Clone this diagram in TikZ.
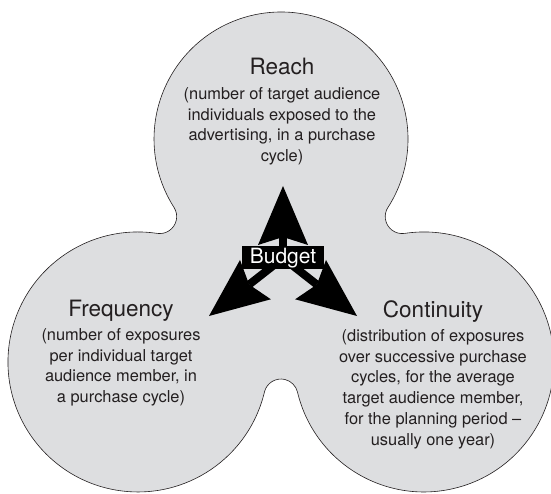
\documentclass[tikz,border=0pt]{standalone}
\usepackage{fontspec}
\setmainfont{TeX Gyre Heros}
\usepackage{xcolor}
\usetikzlibrary{arrows.meta,positioning,backgrounds}

\definecolor{blobgray}{RGB}{221,222,224}
\definecolor{inkgray}{RGB}{35,31,32}

\begin{document}
\begin{tikzpicture}[
    x=1pt, y=1pt,
    heading/.style={anchor=base, inner sep=0pt, text=inkgray, font=\fontsize{22.5}{26}\selectfont},
    desc/.style={anchor=north, inner sep=0pt, align=center, text=inkgray, font=\fontsize{16.4}{20.8}\selectfont},
    budgetbox/.style={fill=black, text=white, inner sep=0pt, minimum width=82pt, minimum height=23pt, font=\fontsize{21}{25}\selectfont},
    blob/.style={fill=blobgray, draw=inkgray, line width=0.6pt},
    budgetarrow/.style={line width=8pt, -{Stealth[length=59pt, width=50pt, inset=8pt, line width=0pt]}}
]
    \useasboundingbox (0,0) rectangle (551,493);

    % circle centres
    \coordinate (top) at (281,354);
    \coordinate (lft) at (138,131);
    \coordinate (rgt) at (424,131);

    % Reach
    \node[heading] (reach) at (282,418) {Reach};
    \node[desc, below=12pt of reach.base] (reachtext) {
        (number of target audience\\
        individuals exposed to the\\
        advertising, in a purchase\\
        cycle)
    };

    % Frequency
    \node[heading] (frequency) at (121,177) {Frequency};
    \node[desc, below=12pt of frequency.base] (frequencytext) {
        (number of exposures\\
        per individual target\\
        audience member, in\\
        a purchase cycle)
    };

    % Continuity
    \node[heading] (continuity) at (433,176) {Continuity};
    \node[desc, below=12pt of continuity.base] (continuitytext) {
        (distribution of exposures\\
        over successive purchase\\
        cycles, for the average\\
        target audience member,\\
        for the planning period --\\
        usually one year)
    };

    % Budget
    \node[budgetbox] (budget) at (283,235) {Budget};
    \coordinate (uptip) at (283,307);
    \coordinate (lefttip) at (209,177);
    \coordinate (righttip) at (357,177);

    \begin{scope}[on background layer]
        % three lobes joined by small fillets
        \draw[blob] ([shift={(-32.6:127pt)}]top)
            arc[start angle=-32.6, end angle=212.6, radius=127pt]
            arc[start angle=32.6, end angle=-98.5, radius=17pt]
            arc[start angle=81.5, end angle=346.6, radius=130pt]
            arc[start angle=166.6, end angle=13.4, radius=17pt]
            arc[start angle=193.4, end angle=458.5, radius=130pt]
            arc[start angle=278.5, end angle=147.4, radius=17pt] -- cycle;

        \draw[budgetarrow] (budget.center) -- (uptip);
        \draw[budgetarrow] (budget.center) -- (lefttip);
        \draw[budgetarrow] (budget.center) -- (righttip);
    \end{scope}
\end{tikzpicture}
\end{document}
